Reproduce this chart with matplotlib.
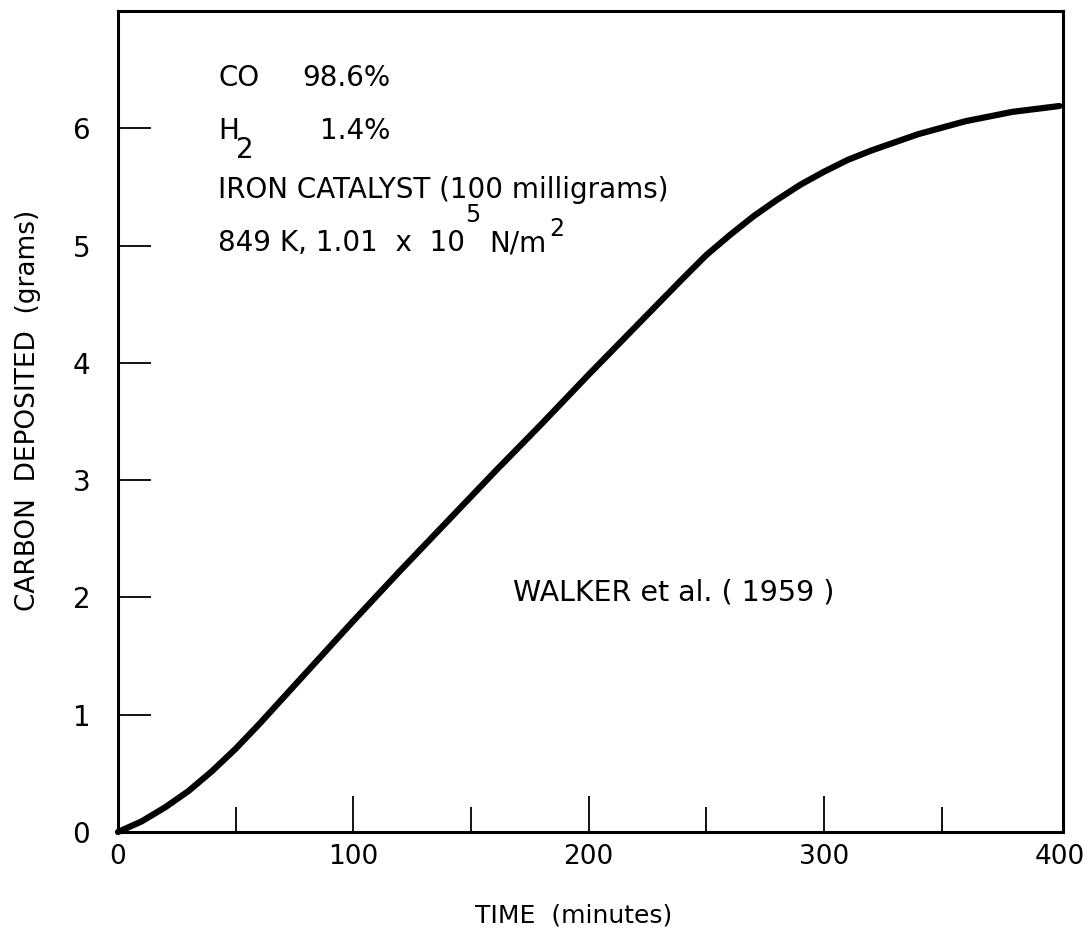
import matplotlib.pyplot as plt
from matplotlib.ticker import MultipleLocator

plt.rcParams['font.family'] = ['DejaVu Sans']

# carbon deposited vs time
time_min = [0, 10, 20, 30, 40, 50, 60, 70, 80, 90, 100, 120, 140, 160, 180,
            200, 220, 240, 250, 260, 270, 280, 290, 300, 310, 320, 340, 360,
            380, 400]
carbon_g = [0, 0.09, 0.21, 0.35, 0.52, 0.71, 0.92, 1.14, 1.36, 1.58, 1.80,
            2.23, 2.65, 3.07, 3.48, 3.90, 4.31, 4.72, 4.92, 5.09, 5.25, 5.39,
            5.52, 5.63, 5.73, 5.81, 5.95, 6.06, 6.14, 6.19]

x_ticks = [0, 100, 200, 300, 400]
y_ticks = [0, 1, 2, 3, 4, 5, 6]

W, H = 1087, 933
fig = plt.figure(figsize=(W / 100, H / 100), dpi=100)

def px(x, y):
    return x / W, 1 - y / H

ax = fig.add_axes([118 / W, 1 - 832 / H, (1063 - 118) / W, (832 - 11) / H])
ax.plot(time_min, carbon_g, color='black', lw=4.5, solid_capstyle='round',
        solid_joinstyle='round', clip_on=False)
ax.set_xlim(0, 401.5)
ax.set_ylim(0, 7)

for s in ax.spines.values():
    s.set_linewidth(2.2)

ax.set_xticks(x_ticks)
ax.set_xticklabels([str(v) for v in x_ticks])
ax.xaxis.set_minor_locator(MultipleLocator(50))
ax.set_yticks(y_ticks)
ax.set_yticklabels([str(v) for v in y_ticks])
ax.tick_params(axis='x', which='major', direction='in', length=26, width=1.3,
               labelsize=19, pad=9, top=False)
ax.tick_params(axis='x', which='minor', direction='in', length=18, width=1.3,
               top=False)
ax.tick_params(axis='y', which='major', direction='in', length=24, width=1.3,
               labelsize=20, pad=20, right=False)
# no tick mark at the right edge (it sits on the frame)
ax.xaxis.get_major_ticks()[-1].tick1line.set_visible(False)

# annotations
fs = 20
fig.text(*px(218, 86), 'CO', fontsize=fs, va='baseline')
fig.text(*px(390, 86), '98.6%', fontsize=fs, va='baseline', ha='right')
fig.text(*px(218, 139), 'H', fontsize=fs, va='baseline')
fig.text(*px(236, 158), '2', fontsize=fs, va='baseline')
fig.text(*px(390, 139), '1.4%', fontsize=fs, va='baseline', ha='right')
fig.text(*px(218, 198), 'IRON CATALYST (100 milligrams)', fontsize=fs, va='baseline')
fig.text(*px(218, 251), '849 K, 1.01  x  10', fontsize=fs, va='baseline')
fig.text(*px(465, 222), '5', fontsize=17, va='baseline')
fig.text(*px(489, 251), 'N/m', fontsize=fs, va='baseline')
fig.text(*px(549, 236), '2', fontsize=17, va='baseline')
fig.text(*px(513, 600), 'WALKER et al. ( 1959 )', fontsize=20.5, va='baseline')

fig.text(*px(574, 915), 'TIME  (minutes)', fontsize=18, ha='center', va='center')
fig.text(*px(28, 410), 'CARBON  DEPOSITED  (grams)', fontsize=19, rotation=90,
         ha='center', va='center')

fig.savefig('out.png', dpi=100)
